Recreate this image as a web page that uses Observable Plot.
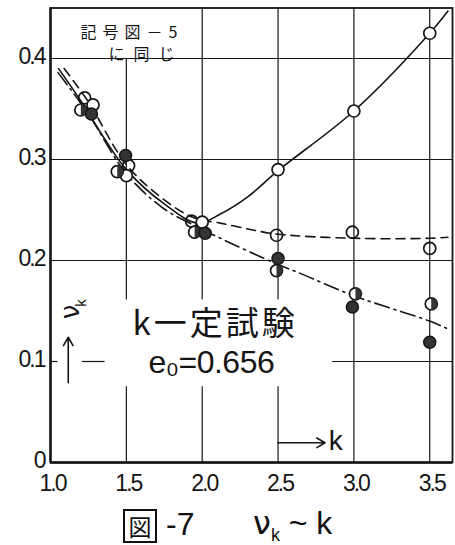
<!DOCTYPE html>
<html>
<head>
<meta charset="utf-8">
<script src="https://cdn.jsdelivr.net/npm/d3@7"></script>
<script src="https://cdn.jsdelivr.net/npm/@observablehq/plot@0.6"></script>
<style>
  html, body { margin: 0; padding: 0; background: #fff; }
  #chart { width: 455px; height: 545px; position: relative; overflow: hidden;
           font-family: "Liberation Sans", "Noto Sans", sans-serif; color: #111; }
  #chart svg g[aria-label$="tick label"] { letter-spacing: -2px; }
  .caption { position: relative; height: 45px; }
  .caption span { position: absolute; line-height: 1.2; color: #111; white-space: nowrap; }
  .zu { left: 123px; top: 9px; width: 30px; height: 30px; border: 2px solid #111;
        font-family: "Noto Sans CJK JP", sans-serif; font-size: 23px; text-align: center;
        line-height: 30px !important; }
</style>
</head>
<body>
<div id="chart"></div>
<script>
// Measured values of ν_k against k (four specimen groups, symbols as in Fig. 5)
const kOpen = [1.28, 1.50, 2.00, 2.50, 3.00, 3.50];
const vOpen = [0.354, 0.284, 0.238, 0.290, 0.348, 0.425];
const kRing = [1.225, 1.515, 1.93, 2.49, 2.99, 3.50];
const vRing = [0.361, 0.294, 0.239, 0.225, 0.228, 0.212];
const kHalf = [1.20, 1.44, 1.95, 2.49, 3.01, 3.51];
const vHalf = [0.349, 0.288, 0.228, 0.190, 0.167, 0.157];
const kFill = [1.27, 1.495, 2.02, 2.50, 2.99, 3.50];
const vFill = [0.345, 0.304, 0.227, 0.202, 0.154, 0.119];

// Fitted curves
const kSolid = [1.053, 1.2, 1.35, 1.5, 1.75, 1.97, 2.12, 2.3, 2.5, 3.0, 3.5, 3.62];
const vSolid = [0.390, 0.358, 0.322, 0.290, 0.256, 0.237, 0.246, 0.263, 0.289, 0.348, 0.425, 0.447];
const kDash = [1.09, 1.25, 1.5, 1.75, 1.95, 2.12, 2.34, 2.5, 3.0, 3.5, 3.62];
const vDash = [0.390, 0.357, 0.295, 0.260, 0.242, 0.237, 0.230, 0.226, 0.222, 0.222, 0.223];
const kDashDot = [1.05, 1.25, 1.5, 1.75, 2.0, 2.12, 2.5, 2.65, 3.0, 3.5, 3.61];
const vDashDot = [0.386, 0.345, 0.286, 0.251, 0.231, 0.222, 0.196, 0.187, 0.165, 0.140, 0.133];

// Axis ticks
const xTicks = [1.0, 1.5, 2.0, 2.5, 3.0, 3.5];
const yTicks = [0, 0.1, 0.2, 0.3, 0.4];
const yTickLabels = ["0", "0.1", "0.2", "0.3", "0.4"];

const pts = (ks, vs) => ks.map((k, i) => ({k, v: vs[i]}));

// Grid segments (the grid is left open behind the annotation blocks)
const gridV = [
  {k: 1.5, lo: 0.161, hi: 0.4}, {k: 1.5, lo: 0, hi: 0.075},
  {k: 2.0, lo: 0.161, hi: 0.45}, {k: 2.0, lo: 0, hi: 0.075},
  {k: 2.5, lo: 0.161, hi: 0.45}, {k: 2.5, lo: 0, hi: 0.075},
  {k: 3.0, lo: 0, hi: 0.45}, {k: 3.5, lo: 0, hi: 0.45}
];
const gridH = [
  {v: 0.4, lo: 1.0, hi: 3.65}, {v: 0.3, lo: 1.0, hi: 3.65}, {v: 0.2, lo: 1.0, hi: 3.65},
  {v: 0.1, lo: 1.0, hi: 1.05}, {v: 0.1, lo: 1.21, hi: 1.36}, {v: 0.1, lo: 2.86, hi: 3.65}
];

// Right-half disc, used over a white circle for the half-filled symbol
const halfRight = {
  draw(ctx, size) {
    const r = Math.sqrt(size / Math.PI);
    ctx.moveTo(0, -r);
    ctx.arc(0, 0, r, -Math.PI / 2, Math.PI / 2);
    ctx.closePath();
  }
};

const ink = "#151515";
const R = 6;
const cjk = '"Noto Sans CJK JP", sans-serif';

const plot = Plot.plot({
  width: 455,
  height: 500,
  marginLeft: 50,
  marginRight: 3,
  marginTop: 7.5,
  marginBottom: 38,
  x: {domain: [1.0, 3.65]},
  y: {domain: [0, 0.45]},
  style: {background: "white", color: ink, fontFamily: '"Liberation Sans", sans-serif'},
  marks: [
    Plot.ruleX(gridV, {x: "k", y1: "lo", y2: "hi", stroke: ink, strokeWidth: 1.2}),
    Plot.ruleY(gridH, {y: "v", x1: "lo", x2: "hi", stroke: ink, strokeWidth: 1.2}),
    Plot.frame({stroke: ink, strokeWidth: 1.8}),
    Plot.ruleX([1.0], {stroke: ink, strokeWidth: 2.4}),
    Plot.ruleY([0], {stroke: ink, strokeWidth: 2.4}),

    Plot.axisX(xTicks, {tickSize: 0, tickPadding: 12, tickFormat: d3.format(".1f"), fontSize: 23, dx: 2}),
    Plot.axisY(yTicks, {tickSize: 0, tickPadding: 6, tickFormat: (d, i) => yTickLabels[i], fontSize: 23, dy: -2}),

    // fitted curves
    Plot.line(pts(kSolid, vSolid), {x: "k", y: "v", curve: "catmull-rom", stroke: ink, strokeWidth: 1.6}),
    Plot.line(pts(kDash, vDash), {x: "k", y: "v", curve: "catmull-rom", stroke: ink, strokeWidth: 1.6,
      strokeDasharray: "9,6"}),
    Plot.line(pts(kDashDot, vDashDot), {x: "k", y: "v", curve: "catmull-rom", stroke: ink, strokeWidth: 1.6,
      strokeDasharray: "15,5,2,5"}),

    // markers
    Plot.dot(pts(kRing, vRing), {x: "k", y: "v", r: R, fill: "none", stroke: ink, strokeWidth: 1.7}),
    Plot.dot(pts(kOpen, vOpen), {x: "k", y: "v", r: R, fill: "white", stroke: ink, strokeWidth: 1.7}),
    Plot.dot(pts(kHalf, vHalf), {x: "k", y: "v", r: R, fill: "white", stroke: ink, strokeWidth: 1.7}),
    Plot.dot(pts(kHalf, vHalf), {x: "k", y: "v", r: R, symbol: halfRight, fill: "#333", stroke: "none"}),
    Plot.dot(pts(kFill, vFill), {x: "k", y: "v", r: R, fill: "#333", stroke: ink, strokeWidth: 1.5}),

    // legend note
    Plot.text(["記号図－5"], {frameAnchor: "top-left", dx: 30, dy: 19, textAnchor: "start",
      fontFamily: cjk, fontSize: 16, fill: ink}),
    Plot.text(["に同じ"], {frameAnchor: "top-left", dx: 58, dy: 41, textAnchor: "start",
      fontFamily: cjk, fontSize: 16, fill: ink}),

    // test condition
    Plot.text(["k一定試験"], {x: 2.085, y: 0.137, textAnchor: "middle",
      fontFamily: cjk, fontSize: 33, fill: ink}),
    Plot.text(["e₀=0.656"], {x: 2.06, y: 0.099, textAnchor: "middle",
      fontSize: 32, fill: ink}),

    // axis names with arrows
    Plot.text(["ν"], {x: 1.13, y: 0.149, rotate: -90, fontSize: 26, fill: ink, fontFamily: '"DejaVu Sans", sans-serif'}),
    Plot.text(["k"], {x: 1.205, y: 0.158, rotate: -90, fontSize: 15, fill: ink}),
    Plot.arrow([{x: 1.117, y1: 0.079, y2: 0.124}], {x1: "x", x2: "x", y1: "y1", y2: "y2",
      stroke: ink, strokeWidth: 1.6, headLength: 9}),
    Plot.arrow([{x1: 2.5, x2: 2.81, y: 0.0195}], {x1: "x1", x2: "x2", y1: "y", y2: "y",
      stroke: ink, strokeWidth: 1.6, headLength: 9}),
    Plot.text(["k"], {x: 2.88, y: 0.021, textAnchor: "middle", fontSize: 28, fill: ink})
  ]
});

// letter spacing for the spaced-out annotation texts
const spacing = {"記号図－5": "6px", "に同じ": "9px", "k一定試験": "3px", "e₀=0.656": "-0.5px"};
d3.select(plot).selectAll("text").each(function () {
  const s = spacing[this.textContent];
  if (s) this.style.letterSpacing = s;
});

const chart = document.getElementById("chart");
chart.appendChild(plot);

const cap = document.createElement("div");
cap.className = "caption";
cap.innerHTML =
  '<span class="zu">図</span>' +
  '<span style="left:166px;top:5px;font-size:32px;">-7</span>' +
  '<span style="left:253px;top:4px;font-size:32px;"><span style="position:static;font-family:\'DejaVu Sans\',sans-serif;">ν</span><sub style="font-size:18px;">k</sub>&nbsp;~&nbsp;k</span>';
chart.appendChild(cap);
</script>
</body>
</html>
